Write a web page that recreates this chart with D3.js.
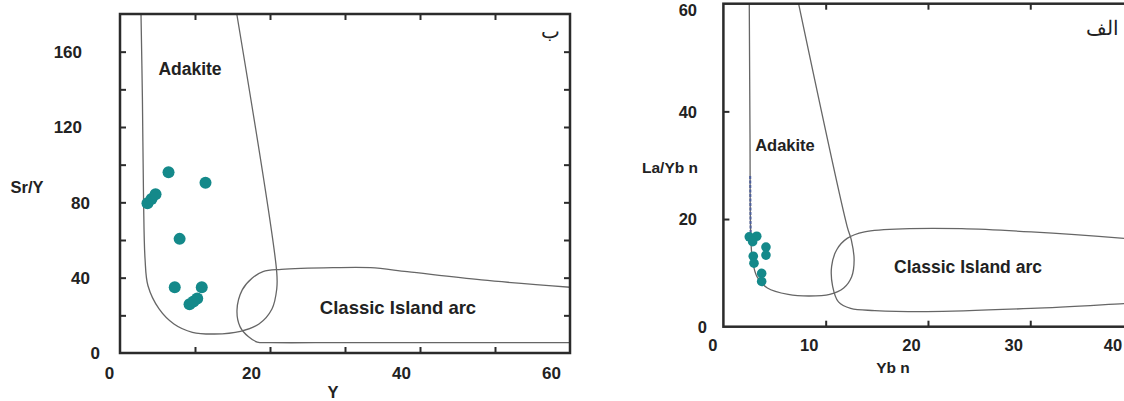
<!DOCTYPE html>
<html><head><meta charset="utf-8">
<script src="https://cdn.jsdelivr.net/npm/d3@7"></script>
<style>
html,body{margin:0;padding:0;background:#fff;}
svg{display:block;font-family:"Liberation Sans",Arial,sans-serif;}
</style></head>
<body>
<svg id="chart" width="1124" height="401"></svg>
<script>
// ---------- DATA ----------
// Left panel (ب): Sr/Y vs Y
const leftXTicks = [10, 20, 30, 40, 50];
const leftXLabels = [0, 20, 40, 60];
const leftYTicks = [20, 40, 60, 80, 100, 120, 140, 160];
const leftYLabels = [0, 40, 80, 120, 160];
const leftSamplesY = [6.47, 11.4, 3.66, 4.2, 4.74, 7.95, 7.3, 10.9, 10.3, 9.27, 9.8];
const leftSamplesSrY = [96.0, 90.4, 79.5, 81.8, 84.3, 60.6, 34.9, 34.9, 29.0, 25.9, 27.4];
const leftAdakiteX = [2.8, 2.99, 3.14, 3.34, 3.73, 5.21, 7.19, 9.65, 12.61, 16.07, 18.53, 20.26, 20.9, 20.9, 15.57];
const leftAdakiteY = [180, 134.4, 81.8, 49.9, 35.7, 23.4, 15.4, 11.0, 10.1, 11.5, 15.4, 23.4, 34.0, 42.8, 180];
const leftArcX = [60, 48.2, 38.3, 33.4, 28.4, 21.5, 19.06, 17.6, 16.3, 15.6, 16.0, 17.1, 18.3, 20.0, 30, 45, 60];
const leftArcY = [34.9, 38.8, 43.2, 45.3, 45.3, 44.4, 43.2, 39.7, 33.5, 22.8, 14.0, 8.7, 5.8, 5.5, 5.5, 5.5, 5.5];

// Right panel (الف): La/Yb n vs Yb n
const rightXTicks = [10, 20, 30, 40];
const rightXLabels = [0, 10, 20, 30, 40];
const rightYTicks = [20, 40];
const rightYLabels = [0, 20, 40, 60];
const rightSamplesYb = [2.53, 3.26, 2.86, 4.16, 4.16, 2.92, 2.99, 3.74, 3.74];
const rightSamplesLaYb = [16.7, 16.8, 15.8, 14.8, 13.3, 13.1, 11.8, 9.9, 8.4];
const rightAdakiteX = [2.53, 2.6, 2.67, 2.84, 3.28, 4.3, 6.33, 8.37, 10.4, 11.76, 12.54, 12.78, 12.51, 12.1, 7.35];
const rightAdakiteY = [60, 35.9, 17.3, 12.4, 9.3, 7.2, 6.0, 5.7, 6.0, 7.2, 9.3, 12.4, 16.1, 18.6, 60];
const rightArcX = [44, 39.2, 30.1, 23.3, 18.2, 13.8, 12.1, 11.08, 10.58, 10.68, 11.25, 12.44, 14.8, 19.9, 30.1, 39.2, 44];
const rightArcY = [15.6, 16.4, 17.6, 18.2, 18.2, 17.6, 16.4, 14.3, 11.2, 7.5, 4.6, 3.4, 3.0, 2.8, 3.4, 4.3, 4.8];
const rightTraceX = [2.62, 2.66];
const rightTraceY = [28, 17.5];

// ---------- DRAW ----------
const svg = d3.select("#chart");
const FRAME = "#2b2b2b", CURVE = "#666", DOT = "#14898a", INK = "#222";

function zip(xs, ys){ return xs.map((v,i)=>[v, ys[i]]); }

function panel(opt){
  const g = svg.append("g");
  const x = d3.scaleLinear().domain(opt.xDomain).range(opt.xRange);
  const y = d3.scaleLinear().domain(opt.yDomain).range(opt.yRange);
  const x0 = opt.xRange[0], x1 = opt.xRange[1], yb = opt.yRange[0], yt = opt.yRange[1];

  const line = d3.line().x(d=>x(d[0])).y(d=>y(d[1])).curve(d3.curveCatmullRom.alpha(0.5));
  opt.curves.forEach(c=>{
    g.append("path").attr("d", line(zip(c[0], c[1])))
      .attr("fill","none").attr("stroke",CURVE).attr("stroke-width",1.3);
  });
  if (opt.trace){
    g.append("path").attr("d", d3.line().x(d=>x(d[0])).y(d=>y(d[1]))(zip(opt.trace[0], opt.trace[1])))
      .attr("fill","none").attr("stroke","#4d5f9a").attr("stroke-width",2).attr("stroke-dasharray","3,1.5");
  }

  const tickLen = 6;
  g.append("g").attr("transform",`translate(0,${yb})`)
    .call(d3.axisBottom(x).tickValues(opt.xTicks).tickSize(-tickLen).tickFormat(""));
  g.append("g").attr("transform",`translate(0,${yt})`)
    .call(d3.axisTop(x).tickValues(opt.xTicks).tickSize(-tickLen).tickFormat(""));
  g.append("g").attr("transform",`translate(${x0},0)`)
    .call(d3.axisLeft(y).tickValues(opt.yTicks).tickSize(-tickLen).tickFormat(""));
  if (opt.rightAxis){
    g.append("g").attr("transform",`translate(${x1},0)`)
      .call(d3.axisRight(y).tickValues(opt.yTicks).tickSize(-tickLen).tickFormat(""));
  }
  g.selectAll(".domain").remove();
  g.selectAll(".tick line").attr("stroke",FRAME).attr("stroke-width",2);

  g.append("rect").attr("x",x0).attr("y",yt).attr("width",x1-x0).attr("height",yb-yt)
    .attr("fill","none").attr("stroke",FRAME).attr("stroke-width",2.5);

  const xl = g.append("g").attr("transform",`translate(0,${opt.xLabelY})`)
    .call(d3.axisBottom(x).tickValues(opt.xLabels).tickSize(0).tickPadding(0).tickFormat(d3.format("d")));
  xl.select(".domain").remove();
  xl.selectAll("text").attr("fill",INK).attr("font-size",opt.tickFont).attr("font-weight","bold").attr("dy","0.35em")
    .attr("font-family","Liberation Sans, Arial, sans-serif")
    .attr("dx", d=> opt.xLabelDx(d));
  const yl = g.append("g").attr("transform",`translate(${x0},0)`)
    .call(d3.axisLeft(y).tickValues(opt.yLabels).tickSize(0).tickPadding(0).tickFormat(d3.format("d")));
  yl.select(".domain").remove();
  yl.selectAll("text").attr("fill",INK).attr("font-size",opt.tickFont).attr("font-weight","bold").attr("dy","0.35em")
    .attr("font-family","Liberation Sans, Arial, sans-serif")
    .attr("x", d=> opt.yLabelX(d) - x0)
    .attr("y", d=> opt.yLabelDy(d));

  g.append("g").selectAll("circle").data(zip(opt.samples[0], opt.samples[1])).join("circle")
    .attr("cx",d=>x(d[0])).attr("cy",d=>y(d[1])).attr("r",opt.r).attr("fill",DOT);

  opt.texts.forEach(t=> g.append("text").attr("x",t[1]).attr("y",t[2])
    .attr("text-anchor","middle").attr("dominant-baseline","central")
    .attr("font-size",t[3]).attr("font-weight",t[4]||"bold").attr("fill",INK).text(t[0]));
  return g;
}

panel({
  xDomain:[0,60], xRange:[120,570], yDomain:[0,180], yRange:[353,14],
  xTicks:leftXTicks, xLabels:leftXLabels, yTicks:leftYTicks, yLabels:leftYLabels,
  tickFont:17,
  xLabelY:373, xLabelDx: d => d===0 ? -11 : -19,
  yLabelX: d => d>=100 ? 82 : (d>0 ? 90 : 100),
  yLabelDy: d => 0,
  rightAxis:true,
  curves:[[leftAdakiteX,leftAdakiteY],[leftArcX,leftArcY]],
  samples:[leftSamplesY,leftSamplesSrY], r:6,
  texts:[
    ["Adakite",190,69,17.5],
    ["Classic Island arc",398,307,18.5],
    ["Sr/Y",27,187,16.5],
    ["Y",333,392,16.5],
    ["ب",550,31,20,"normal"]
  ]
});

panel({
  xDomain:[0,42], xRange:[723.4,1153], yDomain:[0,60], yRange:[326.7,3.7],
  xTicks:rightXTicks, xLabels:rightXLabels, yTicks:rightYTicks, yLabels:rightYLabels,
  tickFont:16.5,
  xLabelY:345, xLabelDx: d => d===0 ? -11 : (d===40 ? -20 : -17),
  yLabelX: d => d>0 ? 697 : 707,
  yLabelDy: d => d===60 ? 6 : 0,
  rightAxis:false,
  curves:[[rightAdakiteX,rightAdakiteY],[rightArcX,rightArcY]],
  trace:[rightTraceX,rightTraceY],
  samples:[rightSamplesYb,rightSamplesLaYb], r:4.8,
  texts:[
    ["Adakite",785,145,16.5],
    ["Classic Island arc",968,267,17.5],
    ["La/Yb n",670,167,15.5],
    ["Yb n",893,367,15.5],
    ["الف",1102,28,20,"normal"]
  ]
});
</script>
</body></html>
